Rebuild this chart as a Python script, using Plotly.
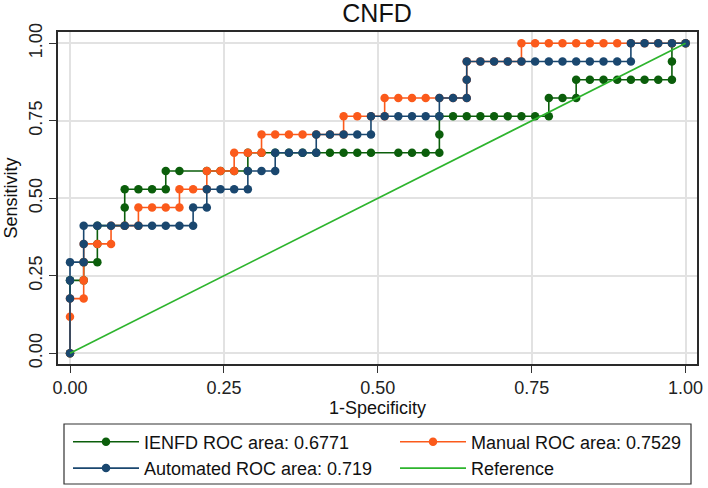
import plotly.graph_objects as go

# ROC counts: false positives (of 45 negatives) and true positives (of 17 positives)
n_neg = 45
n_pos = 17

ienfd_fp = [0, 0, 1, 1, 2, 2, 2, 4, 4, 4, 5, 6, 7, 7, 8, 10, 11, 12, 13, 13, 14, 15, 16, 17, 18, 19, 20, 21, 22,
            24, 25, 26, 27, 27, 27, 28, 29, 30, 31, 32, 33, 34, 35, 35, 36, 37, 37, 38, 39, 40, 41, 42, 43, 44,
            44, 44, 45]
ienfd_tp = [0, 4, 4, 5, 5, 6, 7, 7, 8, 9, 9, 9, 9, 10, 10, 10, 10, 10, 10, 11, 11, 11, 11, 11, 11, 11, 11, 11, 11,
            11, 11, 11, 11, 12, 13, 13, 13, 13, 13, 13, 13, 13, 13, 14, 14, 14, 15, 15, 15, 15, 15, 15, 15, 15,
            16, 17, 17]

manual_fp = [0, 0, 0, 1, 1, 1, 1, 2, 3, 3, 4, 5, 5, 6, 7, 8, 8, 9, 10, 10, 11, 12, 12, 13, 14, 14, 15, 16, 17, 18,
             19, 20, 20, 21, 22, 23, 23, 24, 25, 26, 27, 28, 29, 29, 29, 30, 31, 32, 33, 33, 34, 35, 36, 37, 38,
             39, 40, 41, 42, 43, 44, 45]
manual_tp = [0, 2, 3, 3, 4, 5, 6, 6, 6, 7, 7, 7, 8, 8, 8, 8, 9, 9, 9, 10, 10, 10, 11, 11, 11, 12, 12, 12, 12, 12,
             12, 12, 13, 13, 13, 13, 14, 14, 14, 14, 14, 14, 14, 15, 16, 16, 16, 16, 16, 17, 17, 17, 17, 17, 17,
             17, 17, 17, 17, 17, 17, 17]

auto_fp = [0, 0, 0, 0, 1, 1, 1, 2, 3, 4, 5, 6, 7, 8, 9, 9, 10, 10, 11, 12, 13, 13, 14, 15, 15, 16, 17, 18, 18, 19,
           20, 21, 22, 22, 23, 24, 25, 26, 27, 27, 28, 29, 29, 29, 30, 31, 32, 33, 34, 35, 36, 37, 38, 39, 40,
           41, 41, 42, 43, 44, 45]
auto_tp = [0, 3, 4, 5, 5, 6, 7, 7, 7, 7, 7, 7, 7, 7, 7, 8, 8, 9, 9, 9, 9, 10, 10, 10, 11, 11, 11, 11, 12, 12,
           12, 12, 12, 13, 13, 13, 13, 13, 13, 14, 14, 14, 15, 16, 16, 16, 16, 16, 16, 16, 16, 16, 16, 16, 16,
           16, 17, 17, 17, 17, 17]

ref_x = [0, 1]
ref_y = [0, 1]

names = ["IENFD ROC area: 0.6771", "Manual ROC area: 0.7529", "Automated ROC area: 0.719", "Reference"]
tick_vals = [0, 0.25, 0.5, 0.75, 1]
tick_text = ["0.00", "0.25", "0.50", "0.75", "1.00"]

C_GREEN = "#0b5e0b"
C_ORANGE = "#fb5a1b"
C_BLUE = "#1a476f"
C_REF = "#2db42d"

FONT = "Liberation Sans, Arial, sans-serif"


def frac(vals, n):
    return [v / n for v in vals]


fig = go.Figure()
for fp, tp, col, nm, lg in [
    (ienfd_fp, ienfd_tp, C_GREEN, names[0], "legend"),
    (manual_fp, manual_tp, C_ORANGE, names[1], "legend2"),
    (auto_fp, auto_tp, C_BLUE, names[2], "legend"),
]:
    fig.add_trace(go.Scatter(
        x=frac(fp, n_neg), y=frac(tp, n_pos), mode="lines+markers", name=nm,
        line=dict(color=col, width=1.6), marker=dict(color=col, size=8.5),
        legend=lg,
    ))
fig.add_trace(go.Scatter(x=ref_x, y=ref_y, mode="lines", name=names[3],
                         line=dict(color=C_REF, width=1.6), legend="legend2"))

W, H = 708, 488
L, R, T, B = 58, 11, 32, 124
pw, ph = W - L - R, H - T - B


def px_x(p):
    return (p - L) / pw


def px_y(p):
    return (H - B - p) / ph


axis_common = dict(
    tickvals=tick_vals, ticktext=tick_text, ticks="outside", ticklen=7, tickwidth=1.2,
    tickcolor="#333333", showgrid=True, gridcolor="#e2e2e2", gridwidth=1.5, zeroline=False,
    showline=True, mirror=True, linecolor="#2a2a2a", linewidth=1.5,
    tickfont=dict(family=FONT, size=18, color="#222222"),
)

fig.update_layout(
    width=W, height=H,
    margin=dict(l=L, r=R, t=T, b=B, autoexpand=False),
    paper_bgcolor="white", plot_bgcolor="white",
    font=dict(family=FONT, color="#111111"),
    title=dict(text="CNFD", x=377 / W, xanchor="center", y=1 - 13.5 / H, yanchor="middle",
               yref="container", xref="container", font=dict(family=FONT, size=25, color="#111111")),
    xaxis=dict(range=[-0.0195, 1.0185], title=dict(text="1-Specificity", standoff=2,
               font=dict(family=FONT, size=18, color="#111111")), **axis_common),
    yaxis=dict(range=[-0.0345, 1.0365], tickangle=-90, title=dict(text="Sensitivity", standoff=4,
               font=dict(family=FONT, size=18, color="#111111")), **axis_common),
    legend=dict(x=px_x(68), y=px_y(423.5), xanchor="left", yanchor="top", orientation="v",
                bgcolor="rgba(0,0,0,0)", borderwidth=0, itemwidth=66,
                font=dict(family=FONT, size=18, color="#111111")),
    legend2=dict(x=px_x(395), y=px_y(423.5), xanchor="left", yanchor="top", orientation="v",
                 bgcolor="rgba(0,0,0,0)", borderwidth=0, itemwidth=66,
                 font=dict(family=FONT, size=18, color="#111111")),
    shapes=[dict(type="rect", xref="paper", yref="paper", x0=px_x(64), x1=px_x(691),
                 y0=px_y(424), y1=px_y(484), line=dict(color="#333333", width=1.2),
                 fillcolor="rgba(0,0,0,0)", layer="above")],
    showlegend=True,
)

fig.write_html("out.html", config={"displayModeBar": False},
               post_script="document.body.style.margin='0';document.body.style.overflow='hidden';")
